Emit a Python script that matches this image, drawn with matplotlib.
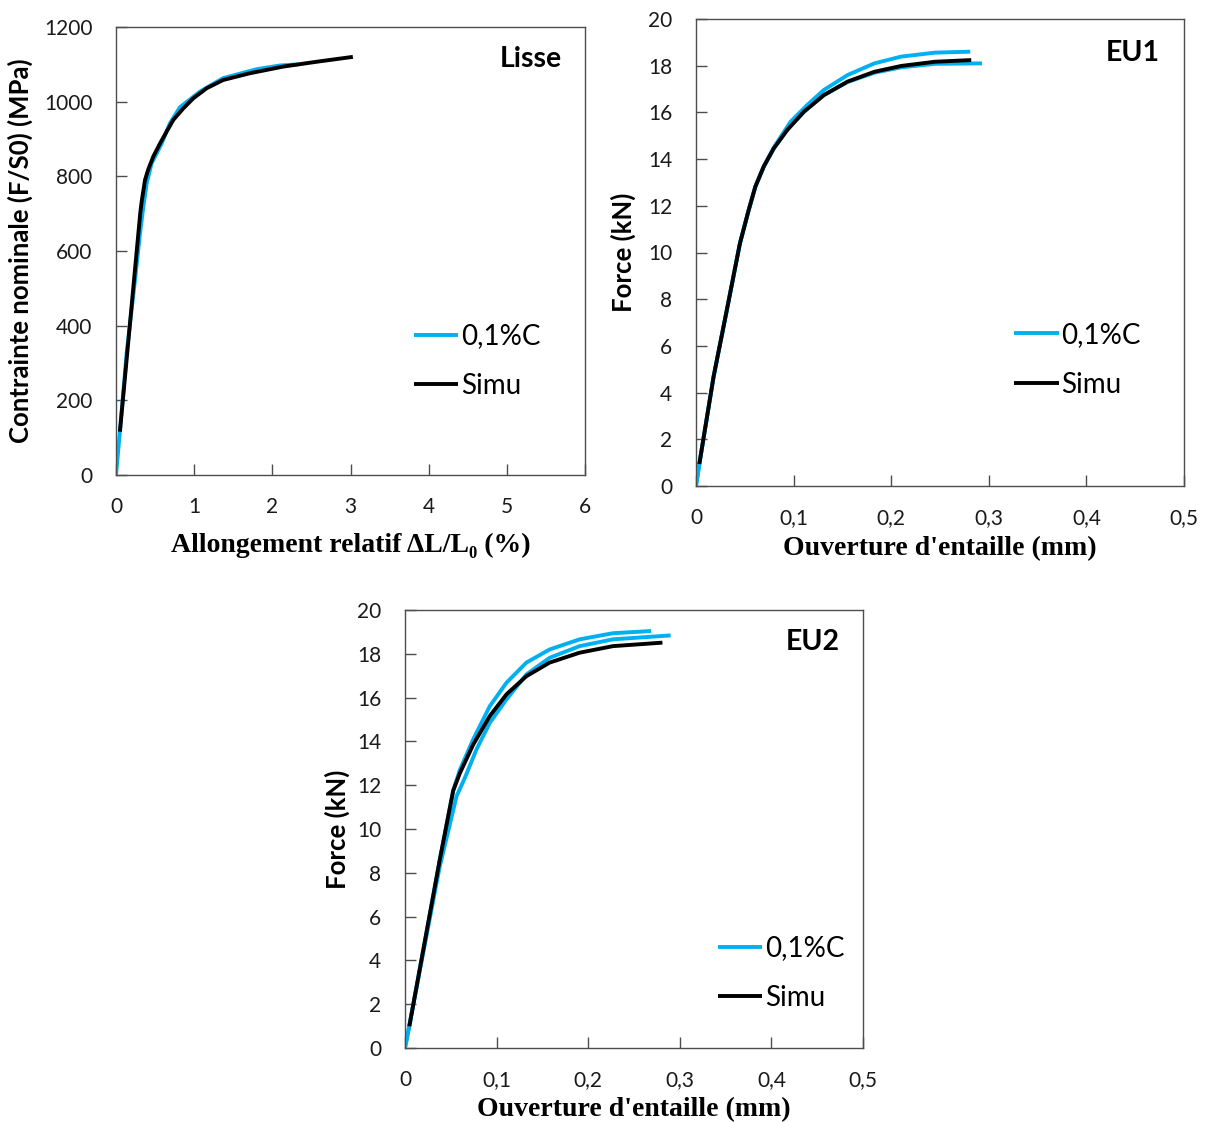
import matplotlib
matplotlib.use("Agg")
import matplotlib.pyplot as plt
from matplotlib.ticker import FixedLocator, FixedFormatter

plt.rcParams["font.family"] = ["Lato", "DejaVu Sans"]

BLUE = "#00B0F0"
BLACK = "#000000"
SPINE = "#4d4d4d"

# --- Lisse: nominal stress vs relative elongation ---
lisse_exp_x = [0.0, 0.05, 0.136, 0.243, 0.307, 0.35, 0.392, 0.456, 0.584, 0.69, 0.818,
               1.074, 1.37, 1.80, 2.10, 2.33]
lisse_exp_y = [0, 116, 326, 522, 647, 719, 781, 835, 888, 942, 985,
               1027, 1063, 1087, 1097, 1100]
lisse_sim_x = [0.05, 0.31, 0.328, 0.371, 0.41, 0.477, 0.563, 0.648, 0.733, 0.861, 0.989,
               1.16, 1.37, 1.71, 2.14, 2.57, 3.03]
lisse_sim_y = [116, 701, 732, 790, 817, 853, 888, 920, 951, 982, 1009,
               1036, 1058, 1076, 1094, 1107, 1120]

# --- EU1: force vs notch opening ---
eu1_exp1_x = [0.0, 0.0034, 0.018, 0.0316, 0.045, 0.054, 0.0608, 0.0694, 0.0797, 0.0969,
              0.114, 0.131, 0.1553, 0.1828, 0.2103, 0.245, 0.281]
eu1_exp1_y = [0.0, 0.94, 4.68, 7.54, 10.39, 11.82, 12.82, 13.68, 14.50, 15.60,
              16.32, 16.96, 17.60, 18.10, 18.39, 18.56, 18.60]
eu1_exp2_x = [0.0, 0.0034, 0.018, 0.0316, 0.045, 0.054, 0.0608, 0.0694, 0.0797, 0.0935,
              0.1106, 0.131, 0.1553, 0.1828, 0.2103, 0.245, 0.293]
eu1_exp2_y = [0.0, 0.94, 4.68, 7.54, 10.39, 11.82, 12.82, 13.68, 14.46, 15.25,
              16.03, 16.74, 17.30, 17.70, 17.93, 18.08, 18.10]
eu1_sim_x = [0.0034, 0.018, 0.0316, 0.045, 0.054, 0.0608, 0.0694, 0.0797, 0.0935, 0.1106,
             0.131, 0.1553, 0.1828, 0.2103, 0.245, 0.282]
eu1_sim_y = [0.94, 4.68, 7.54, 10.39, 11.82, 12.82, 13.68, 14.46, 15.25, 16.03,
             16.74, 17.32, 17.74, 17.99, 18.17, 18.24]

# --- EU2: force vs notch opening ---
eu2_exp1_x = [0.0, 0.0047, 0.02, 0.038, 0.0526, 0.0599, 0.0744, 0.0926, 0.1108, 0.1326,
              0.158, 0.1906, 0.227, 0.2687]
eu2_exp1_y = [0.0, 0.99, 4.49, 8.60, 11.75, 12.70, 14.09, 15.61, 16.68, 17.60,
              18.20, 18.66, 18.94, 19.04]
eu2_exp2_x = [0.0, 0.038, 0.0563, 0.0654, 0.078, 0.0926, 0.1108, 0.1326, 0.158, 0.1906,
              0.227, 0.29]
eu2_exp2_y = [0.0, 8.30, 11.50, 12.34, 13.63, 14.85, 15.92, 17.06, 17.82, 18.35,
              18.66, 18.84]
eu2_sim_x = [0.0047, 0.02, 0.038, 0.0526, 0.0599, 0.0744, 0.0926, 0.1108, 0.1326, 0.158,
             0.1906, 0.227, 0.281]
eu2_sim_y = [0.99, 4.49, 8.60, 11.75, 12.55, 13.85, 15.16, 16.15, 16.98, 17.60,
             18.05, 18.35, 18.51]

lisse_xticks = [0, 1, 2, 3, 4, 5, 6]
lisse_yticks = [0, 200, 400, 600, 800, 1000, 1200]
eu_xticks = [0, 0.1, 0.2, 0.3, 0.4, 0.5]
eu_xlabels = ["0", "0,1", "0,2", "0,3", "0,4", "0,5"]
eu_yticks = [0, 2, 4, 6, 8, 10, 12, 14, 16, 18, 20]

W, H = 1207, 1122
fig = plt.figure(figsize=(W / 100, H / 100), dpi=100)


def make_axes(l, t, r, b):
    return fig.add_axes([l / W, 1 - b / H, (r - l) / W, (b - t) / H])


def draw(ax, x, y, color, label=None):
    ax.plot(x, y, color=color, lw=2.8, label=label,
            solid_joinstyle="round", solid_capstyle="butt")


def style(ax, xt, xl, yt, title, xlabel, ylabel, ylab_x, xlab_y, leg_xy):
    for s in ax.spines.values():
        s.set_color(SPINE)
        s.set_linewidth(1.0)
    ax.xaxis.set_major_locator(FixedLocator(xt))
    ax.xaxis.set_major_formatter(FixedFormatter(xl))
    ax.set_yticks(yt)
    ax.set_xlim(xt[0], xt[-1])
    ax.set_ylim(yt[0], yt[-1])
    ax.tick_params(axis="both", direction="in", length=8, width=1, color=SPINE,
                   labelsize=15, labelcolor="#1a1a1a")
    ax.tick_params(axis="x", pad=16)
    ax.tick_params(axis="y", pad=17)
    ax.text(0.95, 0.928, title, transform=ax.transAxes, ha="right", va="center",
            fontsize=20.5, fontweight="bold")
    ax.set_xlabel(xlabel, fontsize=20, fontweight="bold",
                  family=["Liberation Serif", "DejaVu Serif"])
    ax.set_ylabel(ylabel, fontsize=18.5, fontweight="bold")
    ax.xaxis.set_label_coords(0.5, xlab_y)
    ax.yaxis.set_label_coords(ylab_x, 0.5)
    ax.legend(loc="center left", bbox_to_anchor=leg_xy, frameon=False, fontsize=20,
              handlelength=1.6, handletextpad=0.1, borderpad=0, borderaxespad=0,
              labelspacing=0.85)


# Lisse
ax1 = make_axes(116, 27, 585, 475)
draw(ax1, lisse_exp_x, lisse_exp_y, BLUE, "0,1%C")
draw(ax1, lisse_sim_x, lisse_sim_y, BLACK, "Simu")
style(ax1, lisse_xticks, [str(v) for v in lisse_xticks], lisse_yticks, "Lisse",
      "Allongement relatif ΔL/L₀ (%)", "Contrainte nominale (F/S0) (MPa)",
      -0.177, -0.13, (0.635, 0.254))

# EU1
ax2 = make_axes(696, 19, 1184, 486)
draw(ax2, eu1_exp1_x, eu1_exp1_y, BLUE, "0,1%C")
draw(ax2, eu1_exp2_x, eu1_exp2_y, BLUE)
draw(ax2, eu1_sim_x, eu1_sim_y, BLACK, "Simu")
style(ax2, eu_xticks, eu_xlabels, eu_yticks, "EU1",
      "Ouverture d'entaille (mm)", "Force (kN)", -0.123, -0.108, (0.652, 0.27))

# EU2
ax3 = make_axes(405, 610, 863, 1048)
draw(ax3, eu2_exp1_x, eu2_exp1_y, BLUE, "0,1%C")
draw(ax3, eu2_exp2_x, eu2_exp2_y, BLUE)
draw(ax3, eu2_sim_x, eu2_sim_y, BLACK, "Simu")
style(ax3, eu_xticks, eu_xlabels, eu_yticks, "EU2",
      "Ouverture d'entaille (mm)", "Force (kN)", -0.12, -0.113, (0.683, 0.171))

fig.savefig("out.png", dpi=100)
